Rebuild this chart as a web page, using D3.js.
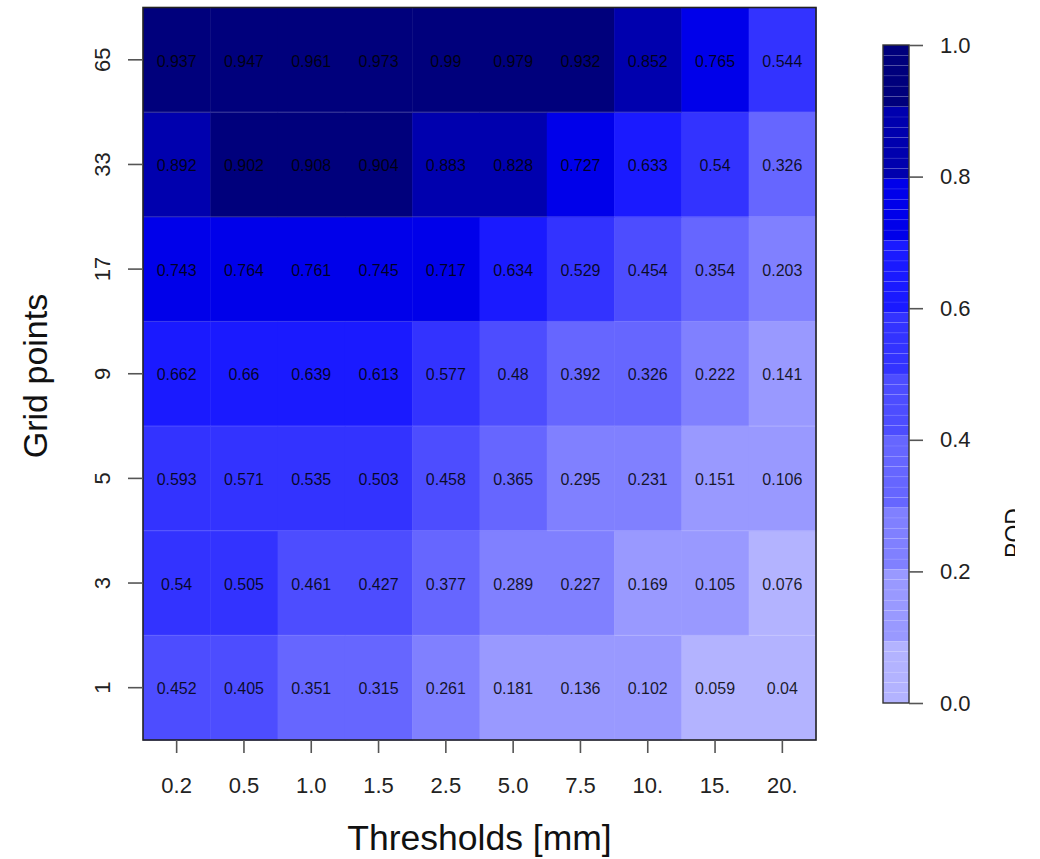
<!DOCTYPE html>
<html>
<head>
<meta charset="utf-8">
<script src="https://cdn.jsdelivr.net/npm/d3@7"></script>
<style>
  html, body { margin: 0; padding: 0; background: #fff; }
  svg { display: block; font-family: "Liberation Sans", Arial, Helvetica, sans-serif; }
</style>
</head>
<body>
<svg id="chart" width="1040" height="859"></svg>
<script>
// Precipitation thresholds (columns) and neighbourhood sizes (rows)
const thresholds = ["0.2", "0.5", "1.0", "1.5", "2.5", "5.0", "7.5", "10.", "15.", "20."];
const gridPoints = ["1", "3", "5", "9", "17", "33", "65"];

// Probability of detection, one array per neighbourhood size
const pod1  = [0.452, 0.405, 0.351, 0.315, 0.261, 0.181, 0.136, 0.102, 0.059, 0.04];
const pod3  = [0.54, 0.505, 0.461, 0.427, 0.377, 0.289, 0.227, 0.169, 0.105, 0.076];
const pod5  = [0.593, 0.571, 0.535, 0.503, 0.458, 0.365, 0.295, 0.231, 0.151, 0.106];
const pod9  = [0.662, 0.66, 0.639, 0.613, 0.577, 0.48, 0.392, 0.326, 0.222, 0.141];
const pod17 = [0.743, 0.764, 0.761, 0.745, 0.717, 0.634, 0.529, 0.454, 0.354, 0.203];
const pod33 = [0.892, 0.902, 0.908, 0.904, 0.883, 0.828, 0.727, 0.633, 0.54, 0.326];
const pod65 = [0.937, 0.947, 0.961, 0.973, 0.99, 0.979, 0.932, 0.852, 0.765, 0.544];

// Colour-key tick values and class breaks
const keyTicks = [0.0, 0.2, 0.4, 0.6, 0.8, 1.0];
const breaks = [0.1, 0.2, 0.3, 0.4, 0.5, 0.6, 0.7, 0.8, 0.9];
const palette = ["#b3b3ff", "#9999ff", "#8080ff", "#6666ff", "#4d4dff",
                 "#3333ff", "#1a1aff", "#0000ea", "#0000ae", "#00007c"];

const podRows = [pod1, pod3, pod5, pod9, pod17, pod33, pod65];
const cells = [];
gridPoints.forEach((g, i) => {
  thresholds.forEach((t, j) => cells.push({ g, t, v: podRows[i][j] }));
});

const svg = d3.select("#chart");
const plot = { left: 143, right: 816, top: 7.5, bottom: 740 };

const x = d3.scaleBand().domain(thresholds).range([plot.left, plot.right]);
const y = d3.scaleBand().domain(gridPoints).range([plot.bottom, plot.top]);
const color = d3.scaleThreshold().domain(breaks).range(palette);

// Heatmap cells
svg.append("g")
  .selectAll("rect")
  .data(cells)
  .join("rect")
  .attr("x", d => x(d.t))
  .attr("y", d => y(d.g))
  .attr("width", x.bandwidth() + 0.5)
  .attr("height", y.bandwidth() + 0.5)
  .attr("fill", d => color(d.v));

// Faint seams between rows
svg.append("g")
  .selectAll("line")
  .data(gridPoints.slice(1))
  .join("line")
  .attr("x1", plot.left).attr("x2", plot.right)
  .attr("y1", d => y(d) + y.bandwidth())
  .attr("y2", d => y(d) + y.bandwidth())
  .attr("stroke", "rgba(255,255,255,0.22)")
  .attr("stroke-width", 1);

// Cell values
svg.append("g")
  .selectAll("text")
  .data(cells)
  .join("text")
  .attr("x", d => x(d.t) + x.bandwidth() / 2)
  .attr("y", d => y(d.g) + y.bandwidth() / 2)
  .attr("dy", "0.42em")
  .attr("text-anchor", "middle")
  .attr("font-size", 16)
  .attr("fill", "#000")
  .attr("fill-opacity", 0.85)
  .text(d => String(d.v));

// Frame
svg.append("rect")
  .attr("x", plot.left).attr("y", plot.top)
  .attr("width", plot.right - plot.left)
  .attr("height", plot.bottom - plot.top)
  .attr("fill", "none")
  .attr("stroke", "#222")
  .attr("stroke-width", 1.6);

// Bottom axis
const xAxis = svg.append("g")
  .attr("transform", `translate(0,${plot.bottom})`)
  .call(d3.axisBottom(x).tickSize(13).tickPadding(24));
xAxis.select(".domain").remove();
xAxis.selectAll(".tick line").attr("stroke", "#555").attr("stroke-width", 1.6);
xAxis.selectAll(".tick text")
  .attr("font-size", 22).attr("fill", "#222")
  .attr("font-family", "Liberation Sans, Arial, sans-serif");

// Left axis with rotated labels
const yAxis = svg.append("g")
  .attr("transform", `translate(${plot.left},0)`)
  .call(d3.axisLeft(y).tickSize(15));
yAxis.select(".domain").remove();
yAxis.selectAll(".tick line").attr("stroke", "#555").attr("stroke-width", 1.6);
yAxis.selectAll(".tick text")
  .attr("transform", "rotate(-90)")
  .attr("x", 0).attr("y", -33).attr("dy", 0)
  .attr("text-anchor", "middle")
  .attr("font-size", 22).attr("fill", "#222")
  .attr("font-family", "Liberation Sans, Arial, sans-serif");

// Axis titles
svg.append("text")
  .attr("x", (plot.left + plot.right) / 2)
  .attr("y", 850)
  .attr("text-anchor", "middle")
  .attr("font-size", 35.5)
  .attr("fill", "#111")
  .text("Thresholds [mm]");

svg.append("text")
  .attr("transform", "translate(47,376) rotate(-90)")
  .attr("text-anchor", "middle")
  .attr("font-size", 34)
  .attr("fill", "#111")
  .text("Grid points");

// Colour key
const key = { x: 883, w: 26, top: 45, bottom: 703 };
const k = d3.scaleLinear().domain([0, 1]).range([key.bottom, key.top]);
const nStrips = 64;
const strips = d3.range(nStrips).map(i => ({ lo: i / nStrips, hi: (i + 1) / nStrips }));

svg.append("g")
  .selectAll("rect")
  .data(strips)
  .join("rect")
  .attr("x", key.x)
  .attr("y", d => k(d.hi))
  .attr("width", key.w)
  .attr("height", d => k(d.lo) - k(d.hi))
  .attr("fill", d => color((d.lo + d.hi) / 2))
  .attr("stroke", "rgba(255,255,255,0.12)")
  .attr("stroke-width", 0.6);

svg.append("rect")
  .attr("x", key.x).attr("y", key.top)
  .attr("width", key.w).attr("height", key.bottom - key.top)
  .attr("fill", "none")
  .attr("stroke", "#333")
  .attr("stroke-width", 1.4);

const kAxis = svg.append("g")
  .attr("transform", `translate(${key.x + key.w},0)`)
  .call(d3.axisRight(k).tickValues(keyTicks).tickFormat(d3.format(".1f")).tickSize(14).tickPadding(17));
kAxis.select(".domain").remove();
kAxis.selectAll(".tick line").attr("stroke", "#555").attr("stroke-width", 1.6);
kAxis.selectAll(".tick text")
  .attr("font-size", 22).attr("fill", "#222")
  .attr("font-family", "Liberation Sans, Arial, sans-serif");

// Key title, clipped at the figure edge
svg.append("clipPath").attr("id", "edge")
  .append("rect").attr("x", 0).attr("y", 0).attr("width", 1015).attr("height", 859);
svg.append("g")
  .attr("clip-path", "url(#edge)")
  .append("text")
  .attr("transform", "translate(1022,533) rotate(-90)")
  .attr("text-anchor", "middle")
  .attr("font-size", 23)
  .attr("fill", "#111")
  .text("POD");
</script>
</body>
</html>
